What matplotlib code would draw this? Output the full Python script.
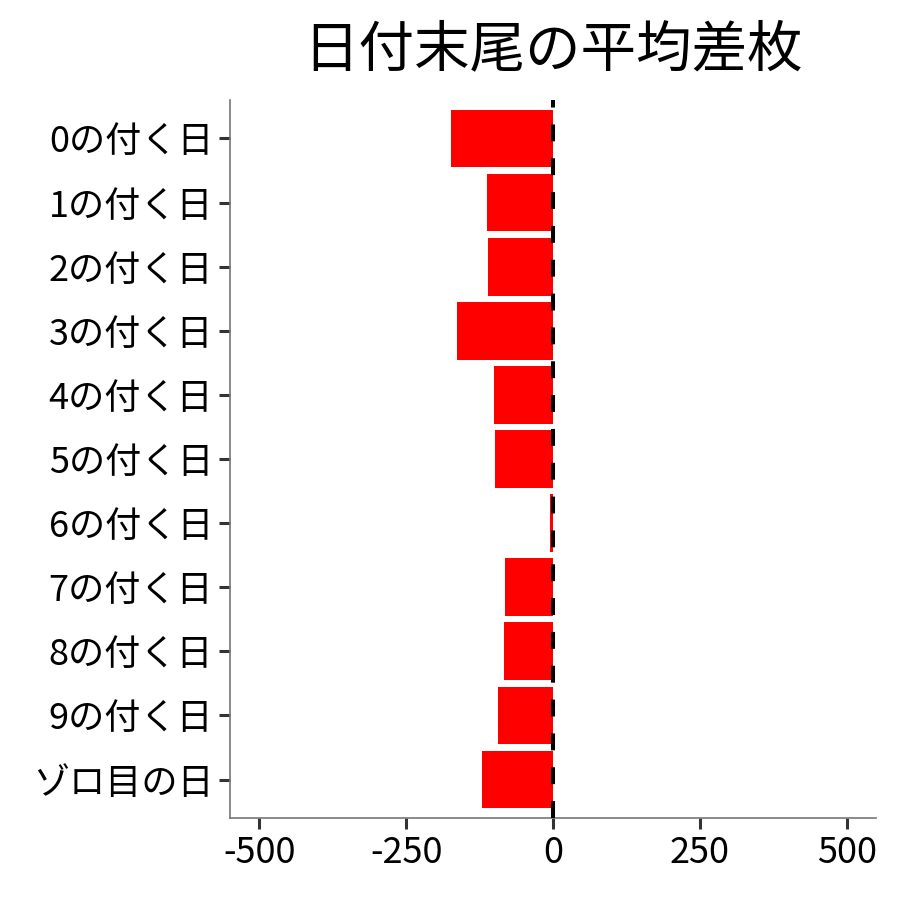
import matplotlib
matplotlib.use('Agg')
import matplotlib.pyplot as plt

plt.rcParams['font.family'] = ['Noto Sans CJK JP', 'DejaVu Sans']

# 日付末尾ごとの平均差枚
labels = ['0の付く日', '1の付く日', '2の付く日', '3の付く日', '4の付く日',
          '5の付く日', '6の付く日', '7の付く日', '8の付く日', '9の付く日', 'ゾロ目の日']
values = [-173, -112, -110, -163, -100, -99, -6, -82, -84, -94, -121]
xticks = [-500, -250, 0, 250, 500]

fig = plt.figure(figsize=(9, 9), dpi=100)
ax = fig.add_axes([0.2556, 0.0911, 0.7178, 0.7978])

pos = list(range(len(labels)))[::-1]
ax.barh(pos, values, height=0.9, color='#ff0000', zorder=2)
ax.axvline(0, color='black', linewidth=2.9, linestyle=(0, (4.2, 4.2)), zorder=3)

ax.set_xlim(-550, 550)
ax.set_ylim(-0.6, len(labels) - 0.4)
ax.set_xticks(xticks)
ax.set_xticklabels([str(v) for v in xticks])
ax.set_yticks(pos)
ax.set_yticklabels(labels)

for s in ['top', 'right']:
    ax.spines[s].set_visible(False)
for s in ['left', 'bottom']:
    ax.spines[s].set_color('#777777')
    ax.spines[s].set_linewidth(1.2)
ax.tick_params(axis='both', length=8, width=2.2, color='#333333',
               labelsize=26, labelcolor='black', pad=4)

ax.set_title('日付末尾の平均差枚', fontsize=40, pad=24)

fig.savefig('out.png', dpi=100)
